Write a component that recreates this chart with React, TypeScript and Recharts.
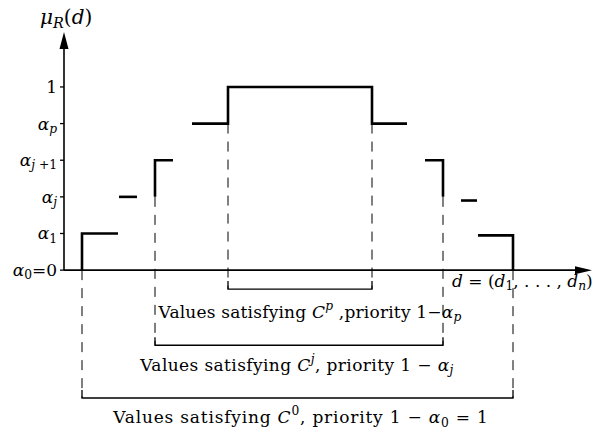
import React from "react";
import {
  LineChart,
  Line,
  XAxis,
  YAxis,
  ReferenceLine,
  ReferenceDot,
} from "recharts";

interface Pt {
  x: number;
  y: number;
}

// membership levels on the vertical axis (index = level)
const levelTicks = [0, 1, 2, 3, 4, 5];
const levelLabels = ["$α_0$=0", "$α_1$", "$α_j$", "$α_{j +1}$", "$α_p$", "1"];

// solid steps of mu_R(d)
const stepSegments: Pt[][] = [
  [{ x: 3.6, y: 0 }, { x: 3.6, y: 1 }, { x: 10.8, y: 1 }],
  [{ x: 11, y: 2 }, { x: 14.6, y: 2 }],
  [{ x: 18.2, y: 2 }, { x: 18.2, y: 3 }, { x: 21.8, y: 3 }],
  [
    { x: 25.6, y: 4 },
    { x: 32.8, y: 4 },
    { x: 32.8, y: 5 },
    { x: 61.6, y: 5 },
    { x: 61.6, y: 4 },
    { x: 68.6, y: 4 },
  ],
  [{ x: 72.2, y: 3 }, { x: 75.8, y: 3 }, { x: 75.8, y: 2 }],
  [{ x: 79.4, y: 1.9 }, { x: 82.6, y: 1.9 }],
  [{ x: 82.8, y: 0.95 }, { x: 89.8, y: 0.95 }, { x: 89.8, y: 0 }],
];

// bracket levels below the axis (C^p, C^j, C^0)
const bracketLevels = [-0.52, -2.05, -3.49];
const bracketLeft = [32.8, 18.2, 3.6];
const bracketRight = [61.6, 75.8, 89.8];
const bracketTop = [4, 2, 0];
const bracketTexts = [
  "Values satisfying $C^p$ ,priority $1−α_p$",
  "Values satisfying $C^j$, priority $1 − α_j$",
  "Values satisfying $C^0$, priority $1 − α_0 = 1$",
];
const bracketTextPos: Pt[] = [
  { x: 49.2, y: -1.15 },
  { x: 46.6, y: -2.6 },
  { x: 47.4, y: -4.02 },
];
const bracketTextSpacing = [0.2, 0.4, 0.8];

const X_MAX = 105.6;
const Y_TOP = 6.5;

const FONT = "'DejaVu Serif', 'Liberation Serif', serif";

// tiny $math$ renderer: italic letters, _sub and ^sup
const renderRich = (src: string, size: number) => {
  const parts: { t: string; it: boolean; lvl: number }[] = [];
  const add = (t: string, it: boolean, lvl: number) => {
    const last = parts[parts.length - 1];
    if (last && last.it === it && last.lvl === lvl) last.t += t;
    else parts.push({ t, it, lvl });
  };
  let math = false;
  for (let i = 0; i < src.length; i++) {
    const c = src[i];
    if (c === "$") {
      math = !math;
      continue;
    }
    if (math && (c === "_" || c === "^")) {
      const lvl = c === "_" ? 1 : -1;
      let grp = src[i + 1];
      i += 1;
      if (grp === "{") {
        const end = src.indexOf("}", i);
        grp = src.slice(i + 1, end);
        i = end;
      }
      for (const g of grp) add(g, /[A-Za-zα-ω]/.test(g), lvl);
      continue;
    }
    add(c, math && /[A-Za-zα-ωμ]/.test(c), 0);
  }
  let shift = 0;
  return parts.map((p, k) => {
    const target = p.lvl === 1 ? size * 0.3 : p.lvl === -1 ? -size * 0.38 : 0;
    const dy = target - shift;
    shift = target;
    return (
      <tspan
        key={k}
        dy={dy}
        fontStyle={p.it ? "italic" : "normal"}
        fontSize={p.lvl === 0 ? size : size * 0.72}
      >
        {p.t}
      </tspan>
    );
  });
};

const RichText = ({ x, y, text, size = 15, anchor = "middle", spacing = 0 }: any) => (
  <text
    x={x}
    y={y}
    textAnchor={anchor}
    dominantBaseline="central"
    fontFamily={FONT}
    fontSize={size}
    letterSpacing={spacing}
    fill="#000"
    style={{ whiteSpace: "pre" }}
  >
    {renderRich(text, size)}
  </text>
);

const LevelTick = (props: any) => {
  const { x, y, payload } = props;
  return (
    <RichText x={x} y={y} text={levelLabels[payload.value]} size={17} anchor="end" />
  );
};

const ArrowUp = ({ cx, cy }: any) => (
  <polygon
    points={`${cx},${cy} ${cx - 4.5},${cy + 17} ${cx + 4.5},${cy + 17}`}
    fill="#000"
  />
);

const ArrowRight = ({ cx, cy }: any) => (
  <polygon
    points={`${cx},${cy} ${cx - 17},${cy - 4} ${cx - 17},${cy + 4}`}
    fill="#000"
  />
);

export default function App() {
  return (
    <div style={{ position: "absolute", left: 0, top: 0, background: "#fff" }}>
      <LineChart
        width={610}
        height={430}
        margin={{ top: 32, right: 18, left: 0, bottom: 6 }}
      >
        <XAxis type="number" dataKey="x" domain={[0, X_MAX]} hide allowDataOverflow />
        <YAxis
          type="number"
          domain={[-4.2, Y_TOP]}
          ticks={levelTicks}
          interval={0}
          width={64}
          axisLine={false}
          tickLine={{ stroke: "#000", strokeWidth: 1.3 }}
          tickSize={4}
          tickMargin={3}
          tick={<LevelTick />}
          allowDataOverflow
        />

        {/* axes */}
        <ReferenceLine
          segment={[{ x: 0, y: 0 }, { x: 0, y: Y_TOP - 0.3 }]}
          stroke="#000"
          strokeWidth={1.6}
        />
        <ReferenceLine
          segment={[{ x: 0, y: 0 }, { x: X_MAX - 2, y: 0 }]}
          stroke="#000"
          strokeWidth={1.6}
        />
        <ReferenceDot x={0} y={Y_TOP} r={0} ifOverflow="visible" shape={<ArrowUp />} />
        <ReferenceDot x={X_MAX} y={0} r={0} ifOverflow="visible" shape={<ArrowRight />} />

        {/* dashed projections down to the brackets */}
        {bracketLevels.map((lv, i) => (
          <Line
            key={`dl-${i}`}
            data={[
              { x: bracketLeft[i], y: bracketTop[i] },
              { x: bracketLeft[i], y: lv },
            ]}
            dataKey="y"
            stroke="#000"
            strokeWidth={1}
            strokeDasharray="10 8"
            dot={false}
            activeDot={false}
            isAnimationActive={false}
          />
        ))}
        {bracketLevels.map((lv, i) => (
          <Line
            key={`dr-${i}`}
            data={[
              { x: bracketRight[i], y: bracketTop[i] },
              { x: bracketRight[i], y: lv },
            ]}
            dataKey="y"
            stroke="#000"
            strokeWidth={1}
            strokeDasharray="10 8"
            dot={false}
            activeDot={false}
            isAnimationActive={false}
          />
        ))}

        {/* brackets */}
        {bracketLevels.map((lv, i) => (
          <Line
            key={`br-${i}`}
            data={[
              { x: bracketLeft[i], y: lv + 0.22 },
              { x: bracketLeft[i], y: lv },
              { x: bracketRight[i], y: lv },
              { x: bracketRight[i], y: lv + 0.22 },
            ]}
            dataKey="y"
            stroke="#000"
            strokeWidth={1.3}
            dot={false}
            activeDot={false}
            isAnimationActive={false}
          />
        ))}

        {/* membership steps */}
        {stepSegments.map((seg, i) => (
          <Line
            key={`st-${i}`}
            data={seg}
            dataKey="y"
            stroke="#000"
            strokeWidth={2.6}
            strokeLinejoin="miter"
            dot={false}
            activeDot={false}
            isAnimationActive={false}
          />
        ))}

        {/* texts */}
        {bracketTexts.map((t, i) => (
          <ReferenceDot
            key={`bt-${i}`}
            x={bracketTextPos[i].x}
            y={bracketTextPos[i].y}
            r={0}
            ifOverflow="visible"
            shape={(p: any) => (
              <RichText
                x={p.cx}
                y={p.cy}
                text={t}
                size={17}
                spacing={bracketTextSpacing[i]}
              />
            )}
          />
        ))}
        <ReferenceDot
          x={77.6}
          y={-0.3}
          r={0}
          ifOverflow="visible"
          shape={(p: any) => (
            <RichText x={p.cx} y={p.cy} text="$d = (d_1, . . . , d_n)$" size={17} anchor="start" />
          )}
        />
        <ReferenceDot
          x={-4.8}
          y={6.9}
          r={0}
          ifOverflow="visible"
          shape={(p: any) => (
            <RichText x={p.cx} y={p.cy} text="$μ_R(d)$" size={20} anchor="start" />
          )}
        />
      </LineChart>
    </div>
  );
}
